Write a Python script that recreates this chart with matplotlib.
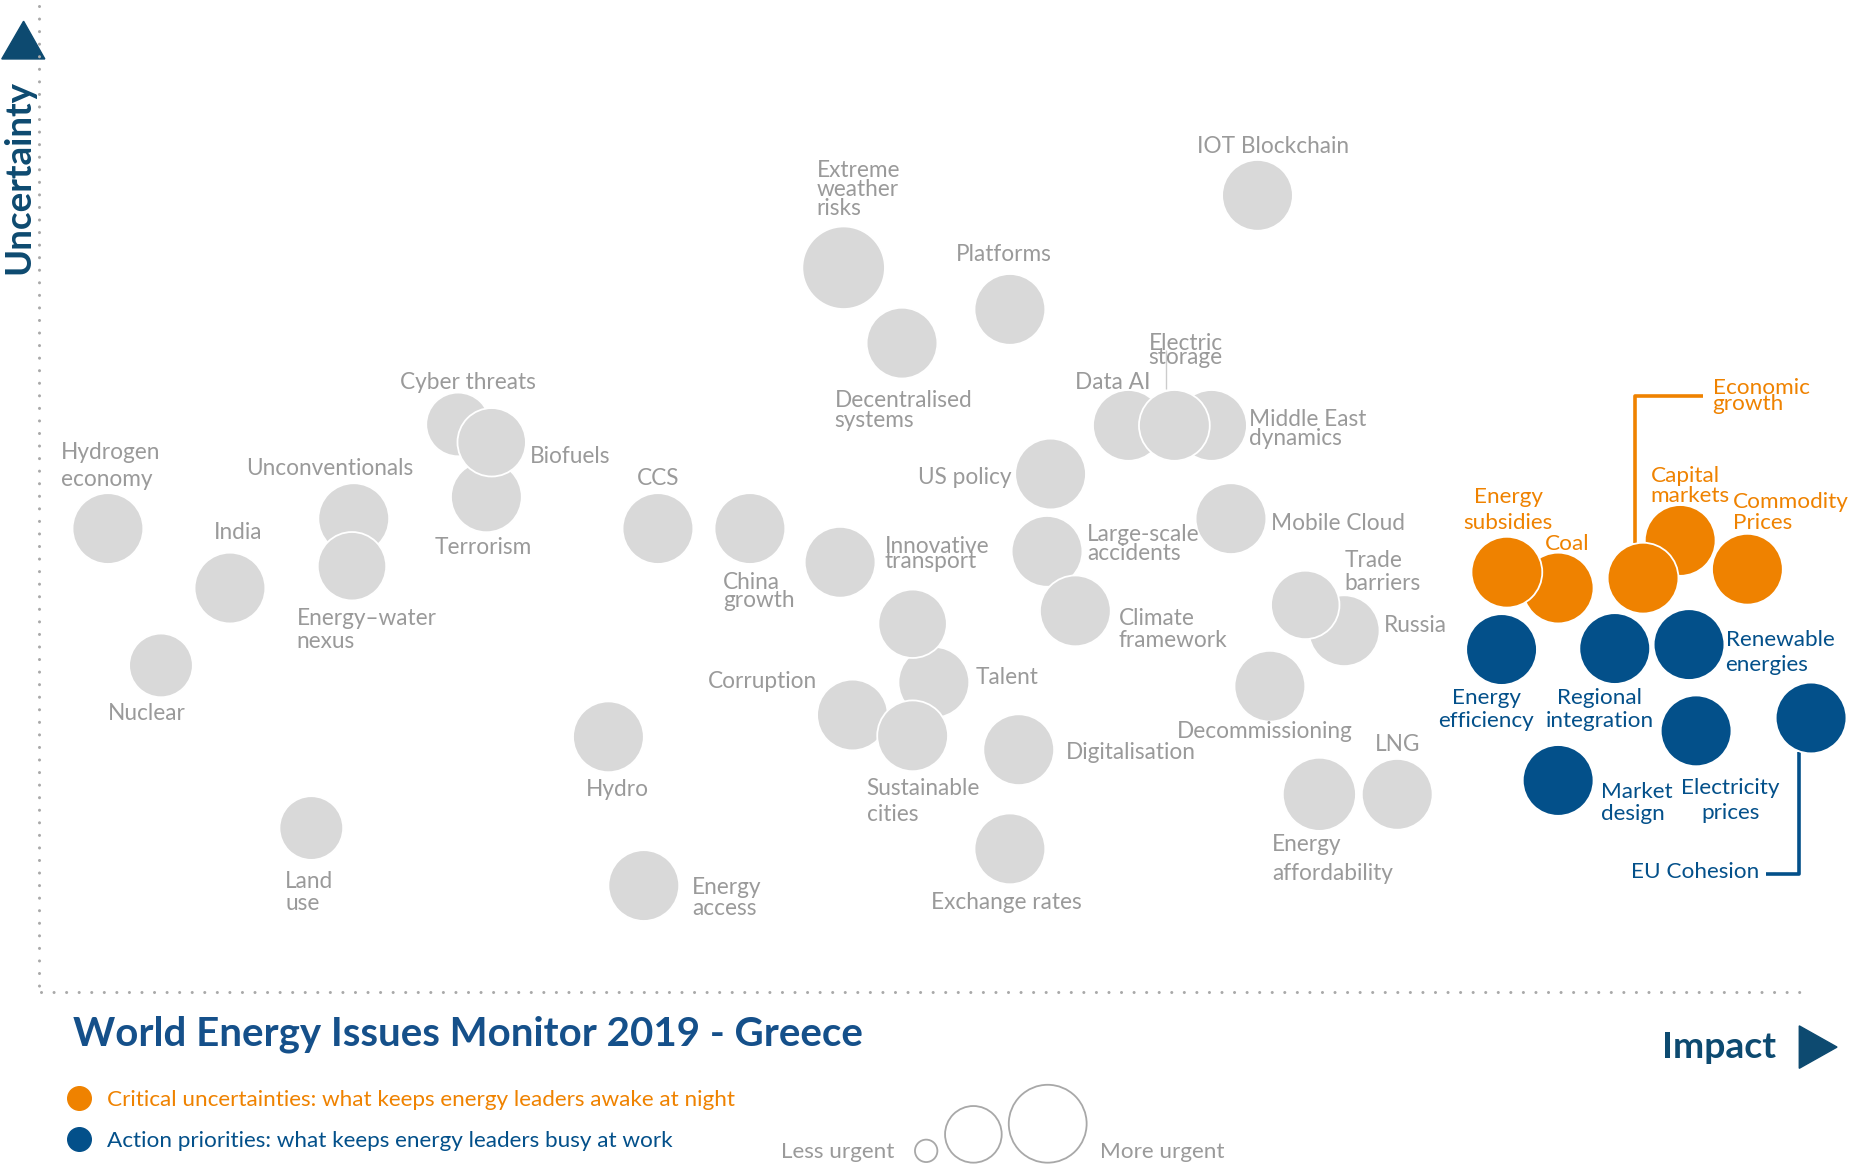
import matplotlib
matplotlib.use("Agg")
import matplotlib.pyplot as plt
from matplotlib.transforms import Affine2D, ScaledTranslation

plt.rcParams['font.family'] = ['Lato', 'DejaVu Sans']

# ---------------- data ----------------
issues = [
    "Hydrogen\neconomy", "India", "Nuclear", "Unconventionals", "Energy\u2013water\nnexus",
    "Cyber threats", "Terrorism", "Biofuels", "Land\nuse", "Hydro", "Energy\naccess",
    "CCS", "China\ngrowth", "Extreme\nweather\nrisks", "Decentralised\nsystems", "Platforms",
    "IOT Blockchain", "Innovative\ntransport", "Corruption", "Talent", "",
    "Sustainable\ncities", "Digitalisation", "Exchange rates", "US policy", "Data AI",
    "Middle East\ndynamics", "Electric\nstorage", "Large-scale\naccidents", "Climate\nframework",
    "Mobile Cloud", "Russia", "Trade\nbarriers", "Decommissioning", "Energy\naffordability", "LNG",
    "Coal", "Energy\nsubsidies", "Capital\nmarkets", "Economic\ngrowth", "Commodity\nPrices",
    "Energy\nefficiency", "Regional\nintegration", "Renewable\nenergies", "Electricity\nprices",
    "EU Cohesion", "Market\ndesign",
]
impact = [
    0.39, 1.08, 0.69, 1.78, 1.77,
    2.37, 2.53, 2.56, 1.54, 3.22, 3.42,
    3.50, 4.02, 4.55, 4.88, 5.49,
    6.89, 4.53, 4.60, 5.06, 4.94,
    4.94, 5.54, 5.49, 5.72, 6.16,
    6.63, 6.42, 5.70, 5.86,
    6.74, 7.38, 7.16, 6.96, 7.24, 7.68,
    8.59, 8.30, 9.28, 9.07, 9.66,
    8.27, 8.91, 9.33, 9.37,
    10.02, 8.59,
]
uncertainty = [
    4.67, 4.07, 3.29, 4.77, 4.29,
    5.72, 4.99, 5.54, 1.65, 2.57, 1.07,
    4.67, 4.67, 7.30, 6.54, 6.88,
    8.03, 4.33, 2.79, 3.12, 3.71,
    2.58, 2.44, 1.44, 5.22, 5.71,
    5.71, 5.71, 4.44, 3.84,
    4.77, 3.64, 3.90, 3.08, 1.99, 1.99,
    4.07, 4.23, 4.55, 4.17, 4.26,
    3.45, 3.46, 3.50, 2.63,
    2.76, 2.13,
]
urgency = [
    30, 30, 27, 30, 29,
    27, 30, 29, 27, 30, 30,
    30, 30, 35, 30, 30,
    30, 30, 30, 30, 29,
    30, 30, 30, 30, 30,
    30, 30, 30, 30,
    30, 30, 29, 30, 31, 30,
    30, 30, 30, 30, 30,
    30, 30, 30, 30,
    30, 30,
]
group = ["other"] * 36 + ["critical"] * 5 + ["action"] * 6

legend_texts = ["Critical uncertainties: what keeps energy leaders awake at night",
                "Action priorities: what keeps energy leaders busy at work"]
title = "World Energy Issues Monitor 2019 - Greece"

# ---------------- layout / style ----------------
W, H = 1568.0, 988.0          # reference layout units
K = 1850.0 / W                 # pixels per layout unit
PT = K * 0.72                  # points per layout unit

GRAY_FILL = "#d9d9d9"
GRAY_TEXT = "#9a9a9a"
ORANGE = "#ef8200"
BLUE = "#03508a"
NAVY = "#0d4a70"
TITLE_BLUE = "#15508a"
colors = {"other": GRAY_FILL, "critical": ORANGE, "action": BLUE}
tcolors = {"other": GRAY_TEXT, "critical": ORANGE, "action": BLUE}

# label placement: (ha, dx, dy, line gap) in layout units relative to bubble centre
label_pos = [
    ("left", -40, -66, 23), ("center", 7, -49, 0), ("center", -12, 39, 0), ("center", -20, -44, 0),
    ("left", -47, 43, 19),
    ("center", 8, -37, 0), ("center", -3, 41, 0), ("left", 32, 10, 0), ("left", -22, 44, 18),
    ("center", 8, 43, 0), ("left", 41, 0, 18),
    ("center", 0, -44, 0), ("left", -23, 44, 15), ("left", -23, -84, 16), ("left", -57, 47, 17),
    ("center", -5, -48, 0),
    ("left", -51, -43, 0), ("left", 38, -15, 13), ("center", -76, -30, 0), ("left", 35, -6, 0),
    ("left", 0, 0, 0),
    ("left", -39, 43, 22), ("left", 40, 1, 0), ("center", -3, 44, 0), ("right", -33, 1, 0),
    ("left", -45, -38, 0),
    ("left", 32, -7, 16), ("left", -22, -71, 12), ("left", 34, -16, 16), ("left", 37, 5, 18),
    ("left", 34, 2, 0), ("left", 34, -6, 0), ("left", 33, -39, 19), ("center", -4, 37, 0),
    ("left", -40, 41, 24), ("center", 0, -44, 0),
    ("center", 8, -39, 0), ("center", 1, -65.5, 22), ("left", -25, -56, 17), ("left", 59, -163, 14),
    ("left", -12, -59, 18),
    ("center", -13, 39, 20), ("center", -13, 40, 20), ("left", 31, -5.5, 21), ("center", 29, 47, 21),
    ("right", -44, 129, 0), ("left", 36, 8, 19),
]
connectors = {
    "Economic\ngrowth": ([(-6.4, -30), (-6.4, -154), (51, -154)], ORANGE, 2.6),
    "EU Cohesion": ([(-10, 29), (-10, 132.6), (-38, 132.6)], BLUE, 2.6),
    "Electric\nstorage": ([(-7, -64), (-7, -31)], "#cccccc", 1.0),
}

fig = plt.figure(figsize=(18.5, 11.65), dpi=100)
ov = fig.add_axes([0, 0, 1, 1])
ov.set_xlim(0, W)
ov.set_ylim(H, 0)
ov.axis("off")

ax = fig.add_axes([33 / W, 1 - 841 / H, 1499 / W, 836 / H])
ax.set_xlim(0, 10)
ax.set_ylim(0, 836 / 84.1)
ax.axis("off")


def anchor(x0, y0):
    return Affine2D().scale(K, -K) + ScaledTranslation(x0, y0, ax.transData)


# dotted axes
dot = dict(color="#a9a9a9", lw=2.2, ls=(0, (0.01, 4.1)), dash_capstyle="round")
ov.plot([33, 33], [5, 841], **dot)
ov.plot([35, 1532], [841, 841], **dot)

# connectors
for name, (pts, c, lw) in connectors.items():
    i = issues.index(name)
    xs = [p[0] for p in pts]
    ys = [p[1] for p in pts]
    ax.plot(xs, ys, color=c, lw=lw, transform=anchor(impact[i], uncertainty[i]),
            clip_on=False, solid_capstyle="butt", zorder=1)

# bubbles
sizes = [(2 * r * PT) ** 2 for r in urgency]
ax.scatter(impact, uncertainty, s=sizes, c=[colors[g] for g in group],
           edgecolors="white", linewidths=1.3, clip_on=False, zorder=2)

# labels
for i, name in enumerate(issues):
    if not name:
        continue
    ha, dx, dy, gap = label_pos[i]
    tr = anchor(impact[i], uncertainty[i])
    fs = 16.3 if group[i] == "other" else 16.2
    for j, line in enumerate(name.split("\n")):
        ax.text(dx, dy + j * gap, line, transform=tr, ha=ha, va="center_baseline",
                fontsize=fs, color=tcolors[group[i]], zorder=3, clip_on=False)

# axis arrows and titles
ov.add_patch(plt.Polygon([(1.5, 50), (38, 50), (20, 18)], closed=True, color=NAVY))
ov.text(16, 150, "Uncertainty", rotation=90, ha="center", va="center",
        fontsize=26.5, fontweight="bold", color=NAVY)
ov.add_patch(plt.Polygon([(1525, 870), (1525, 906), (1557, 888)], closed=True, color=NAVY))
ov.text(1505, 888, "Impact", ha="right", va="center", fontsize=26.8, fontweight="bold", color=NAVY)
ov.text(62, 877, title, ha="left", va="center", fontsize=29, fontweight="bold", color=TITLE_BLUE)

# colour legend
for k, (txt, c) in enumerate(zip(legend_texts, [ORANGE, BLUE])):
    y = 931 + k * 35
    ov.scatter([67], [y], s=(2 * 10 * PT) ** 2, color=c, zorder=3)
    ov.text(91, y, txt, ha="left", va="center_baseline", fontsize=16.2, color=c)

# size legend
ov.text(758, 975, "Less urgent", ha="right", va="center_baseline", fontsize=16.2, color=GRAY_TEXT)
ov.text(932, 975, "More urgent", ha="left", va="center_baseline", fontsize=16.2, color=GRAY_TEXT)
for cx, cy, r in [(785, 976, 9.5), (825, 962, 24), (888, 953, 33)]:
    ov.scatter([cx], [cy], s=(2 * r * PT) ** 2, facecolors="none", edgecolors="#a8a8a8",
               linewidths=1.3, clip_on=False)

fig.savefig("out.png", dpi=100)
